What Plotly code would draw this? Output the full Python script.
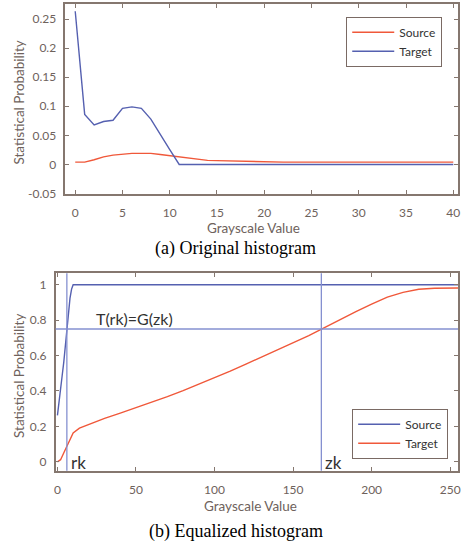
import plotly.graph_objects as go

# ---- Data: (a) Original histogram ----
x_a = list(range(0, 41))
source_a = [0.004, 0.004, 0.008, 0.013, 0.016, 0.018, 0.019, 0.019, 0.019, 0.017,
            0.015, 0.012, 0.010, 0.008, 0.007, 0.0065, 0.006, 0.006, 0.006, 0.0055,
            0.005] + [0.004] * 20
target_a = [0.2635, 0.086, 0.068, 0.0738, 0.076, 0.0964, 0.099, 0.0964, 0.078, 0.051,
            0.0255, 0.0] + [0.0] * 29

# ---- Data: (b) Equalized histogram ----
x_b_source = [0, 1, 2, 3, 4, 5, 6, 7, 8, 9, 10, 11, 255]
source_b = [0.262, 0.347, 0.414, 0.486, 0.560, 0.655, 0.753, 0.848, 0.924, 0.975, 1.0, 1.0, 1.0]
x_b_target = [0, 2, 4, 6, 8, 10, 14, 20, 30, 40, 50, 60, 70, 80, 90, 100, 110, 120, 130,
              140, 150, 160, 170, 180, 190, 200, 210, 220, 230, 240, 250, 255]
target_b = [0.0, 0.012, 0.05, 0.09, 0.13, 0.163, 0.19, 0.212, 0.245, 0.275, 0.305, 0.336,
            0.368, 0.402, 0.438, 0.475, 0.512, 0.552, 0.592, 0.632, 0.672, 0.712, 0.757,
            0.803, 0.848, 0.89, 0.93, 0.957, 0.974, 0.98, 0.981, 0.981]
rk = 6
zk = 168
level = 0.75

ticks_a_x = [0, 5, 10, 15, 20, 25, 30, 35, 40]
ticks_a_y = [-0.05, 0, 0.05, 0.1, 0.15, 0.2, 0.25]
ticks_a_ytext = ["-0.05", "0", "0.05", "0.1", "0.15", "0.2", "0.25"]
ticks_b_x = [0, 50, 100, 150, 200, 250]
ticks_b_y = [0, 0.2, 0.4, 0.6, 0.8, 1]
ticks_b_ytext = ["0", "0.2", "0.4", "0.6", "0.8", "1"]

RED = "#F0583A"
BLUE = "#5560B0"
REFBLUE = "#8590D0"
AXC = "#85776f"
TXT = "#6e625c"
W, H = 462, 552

fig = go.Figure()
fig.add_trace(go.Scatter(x=x_a, y=source_a, mode="lines", name="Source",
                         line=dict(color=RED, width=1.4), xaxis="x", yaxis="y", legend="legend"))
fig.add_trace(go.Scatter(x=x_a, y=target_a, mode="lines", name="Target",
                         line=dict(color=BLUE, width=1.4), xaxis="x", yaxis="y", legend="legend"))
fig.add_trace(go.Scatter(x=x_b_source, y=source_b, mode="lines", name="Source",
                         line=dict(color=BLUE, width=1.4), xaxis="x2", yaxis="y2", legend="legend2"))
fig.add_trace(go.Scatter(x=x_b_target, y=target_b, mode="lines", name="Target",
                         line=dict(color=RED, width=1.4), xaxis="x2", yaxis="y2", legend="legend2"))

fig.add_shape(type="line", xref="x2", yref="y2 domain", x0=rk, x1=rk, y0=0, y1=1,
              line=dict(color=REFBLUE, width=1.3))
fig.add_shape(type="line", xref="x2", yref="y2 domain", x0=zk, x1=zk, y0=0, y1=1,
              line=dict(color=REFBLUE, width=1.3))
fig.add_shape(type="line", xref="x2 domain", yref="y2", x0=0, x1=1, y0=level, y1=level,
              line=dict(color=REFBLUE, width=1.3))

axis_common = dict(showline=True, linecolor=AXC, linewidth=1.5, mirror="ticks",
                   ticks="inside", ticklen=4, tickcolor=AXC, showgrid=False, zeroline=False,
                   ticklabeloverflow="allow",
                   tickfont=dict(family="Lato", size=12, color=TXT))

fig.update_layout(
    width=W, height=H, margin=dict(l=0, r=0, t=0, b=0),
    paper_bgcolor="white", plot_bgcolor="white",
    xaxis=dict(domain=[64 / W, 461 / W], anchor="y", range=[-1.05, 40.5],
               tickvals=ticks_a_x, ticklabelstandoff=7, **axis_common),
    yaxis=dict(domain=[1 - 196 / H, 1 - 4 / H], anchor="x", range=[-0.05, 0.276],
               tickvals=ticks_a_y, ticktext=ticks_a_ytext, ticklabelstandoff=5, **axis_common),
    xaxis2=dict(domain=[54.3 / W, 461 / W], anchor="y2", range=[-1.1, 255],
                tickvals=ticks_b_x, ticklabelstandoff=7, **axis_common),
    yaxis2=dict(domain=[1 - 476.7 / H, 1 - 276.7 / H], anchor="x2", range=[-0.05, 1.065],
                tickvals=ticks_b_y, ticktext=ticks_b_ytext, ticklabelstandoff=5, **axis_common),
    legend=dict(x=348 / W, y=1 - 17 / H, xanchor="left", yanchor="top",
                bordercolor="#7a6a64", borderwidth=1, bgcolor="white",
                font=dict(family="Lato", size=12, color="#333"), tracegroupgap=0,
                itemwidth=42),
    legend2=dict(x=354 / W, y=1 - 414 / H, xanchor="left", yanchor="top",
                 bordercolor="#7a6a64", borderwidth=1, bgcolor="white",
                 font=dict(family="Lato", size=12, color="#333"), tracegroupgap=0,
                 itemwidth=42),
    showlegend=True,
)


def label(text, px, py, size, color, family="Lato", angle=0):
    return dict(text=text, x=px / W, y=1 - py / H, xref="paper", yref="paper",
                xanchor="center", yanchor="middle", showarrow=False, textangle=angle,
                font=dict(family=family, size=size, color=color))


ann = [
    label("Grayscale Value", 254, 231, 13.5, TXT),
    label("Grayscale Value", 251, 512.5, 13.5, TXT),
    label("Statistical Probability", 17, 104, 13.5, TXT, angle=-90),
    label("Statistical Probability", 17, 381, 13.5, TXT, angle=-90),
    label("(a) Original histogram", 236, 252, 18, "black", family="Liberation Serif"),
    label("(b) Equalized histogram", 237, 538, 18, "black", family="Liberation Serif"),
    label("T(rk)=G(zk)", 134, 323, 16, "#333"),
    label("rk", 77, 468, 17, "#333"),
    label("zk", 335, 468, 17, "#333"),
]
fig.update_layout(annotations=ann)

fig.write_html("out.html")
